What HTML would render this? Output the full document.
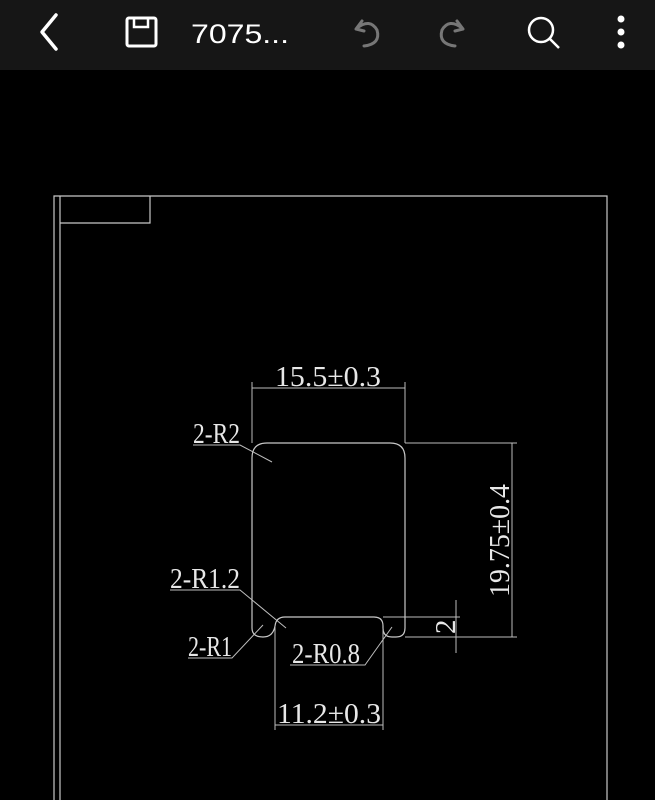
<!DOCTYPE html>
<html><head><meta charset="utf-8"><style>
html,body{margin:0;padding:0;background:#000;width:655px;height:800px;overflow:hidden}
</style></head><body>
<svg width="655" height="800" viewBox="0 0 655 800" xmlns="http://www.w3.org/2000/svg">
<rect x="0" y="0" width="655" height="70" fill="#161616"/>
<polyline points="56,15 42,32 56,49" fill="none" stroke="#fff" stroke-width="3.5" stroke-linecap="round" stroke-linejoin="round"/>
<rect x="127" y="18" width="29" height="28" rx="2" fill="none" stroke="#fff" stroke-width="3"/>
<rect x="134" y="18" width="14" height="9" fill="none" stroke="#fff" stroke-width="2.5"/>
<text x="191" y="43" font-family="Liberation Sans, sans-serif" font-size="27" fill="#fff" textLength="98" lengthAdjust="spacingAndGlyphs">7075...</text>
<path d="M356,29 L362,21 M356,29 L364,31 M357,28 Q370,18 377,30 Q381,44 364,46" fill="none" stroke="#777" stroke-width="3" stroke-linecap="round"/>
<path d="M463,29 L457,21 M463,29 L455,31 M462,28 Q449,18 442,30 Q438,44 455,46" fill="none" stroke="#777" stroke-width="3" stroke-linecap="round"/>
<circle cx="541" cy="30" r="12" fill="none" stroke="#fff" stroke-width="2.5"/>
<line x1="550" y1="39" x2="559" y2="48" stroke="#fff" stroke-width="2.5"/>
<circle cx="621" cy="19" r="3.5" fill="#fff"/><circle cx="621" cy="32" r="3.5" fill="#fff"/><circle cx="621" cy="45" r="3.5" fill="#fff"/>

<g stroke="#c8c8c8" stroke-width="1.2" fill="none">
<path d="M54,800 L54,196 L607,196 L607,800"/>
<path d="M60,800 L60,196"/>
<path d="M60,223 L150,223 L150,196"/>
<path d="M252,458 Q252,443 267,443 L390,443 Q405,443 405,458 L405,628 Q405,637 396,637 L392,637 Q383,637 383,628 L383,626 Q383,617 374,617 L285,617 Q276,617 275,626 Q273,637 263,637 Q252,637 252,628 Z"/>
</g>
<g stroke="#bdbdbd" stroke-width="1" fill="none">
<line x1="252" y1="382" x2="252" y2="443"/>
<line x1="405" y1="382" x2="405" y2="443"/>
<line x1="252" y1="388" x2="405" y2="388"/>
<line x1="405" y1="443" x2="517" y2="443"/>
<line x1="405" y1="637" x2="517" y2="637"/>
<line x1="512" y1="443" x2="512" y2="637"/>
<line x1="383" y1="617" x2="460" y2="617"/>
<line x1="456" y1="600" x2="456" y2="653"/>
<line x1="275" y1="626" x2="275" y2="730"/>
<line x1="383" y1="628" x2="383" y2="730"/>
<line x1="275" y1="725" x2="383" y2="725"/>
<path d="M193,445 L240,445 L272,462"/>
<path d="M170,590 L240,590 L286,628"/>
<path d="M188,658 L232,658 L263,625"/>
<path d="M290,665 L365,665 L392,627"/>
</g>
<g font-family="Liberation Serif, serif" fill="#e8e8e8" font-size="29">
<text x="275" y="386" textLength="106" lengthAdjust="spacingAndGlyphs">15.5±0.3</text>
<text x="277" y="723" textLength="104" lengthAdjust="spacingAndGlyphs">11.2±0.3</text>
<text x="193" y="443" textLength="47" lengthAdjust="spacingAndGlyphs">2-R2</text>
<text x="170" y="588" textLength="70" lengthAdjust="spacingAndGlyphs">2-R1.2</text>
<text x="188" y="656" textLength="44" lengthAdjust="spacingAndGlyphs">2-R1</text>
<text x="292" y="663" textLength="68" lengthAdjust="spacingAndGlyphs">2-R0.8</text>
<text transform="translate(509,597) rotate(-90)" textLength="113" lengthAdjust="spacingAndGlyphs">19.75±0.4</text>
<text transform="translate(455,634) rotate(-90)">2</text>
</g>
</svg>
</body></html>
